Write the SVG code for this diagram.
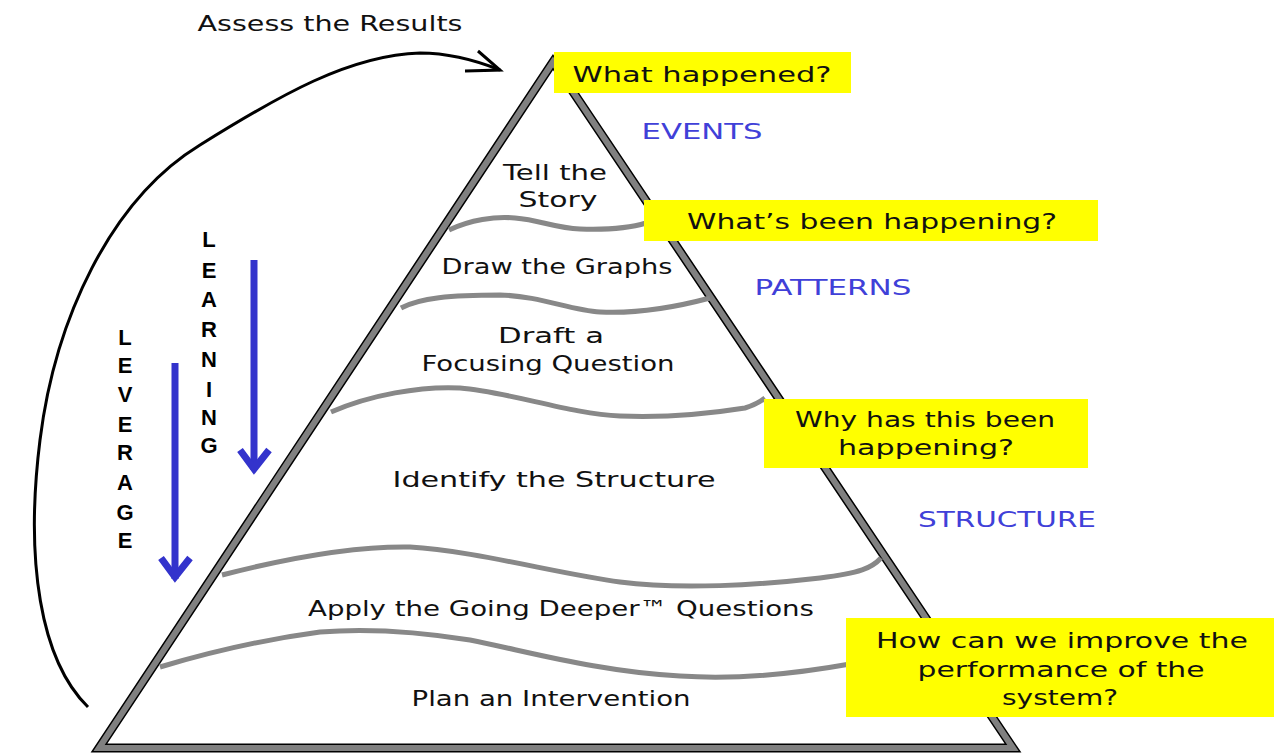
<svg xmlns="http://www.w3.org/2000/svg" width="1274" height="753" viewBox="0 0 1274 753">
<style>
.t{font-family:"DejaVu Sans","Liberation Sans",sans-serif;font-size:22px;fill:#111;text-anchor:middle}
.b{font-family:"DejaVu Sans","Liberation Sans",sans-serif;font-size:22px;fill:#4040D8;text-anchor:middle}
.v{font-family:"Liberation Sans","DejaVu Sans",sans-serif;font-size:22px;font-weight:bold;fill:#000;text-anchor:middle}
.wave{fill:none;stroke:#888;stroke-width:5}
.box{fill:#ffff00}
.blue{fill:none;stroke:#3333CC;stroke-width:7}
</style>
<rect width="1274" height="753" fill="#fff"/>
<g id="pyramid">
<polygon points="553,62 99,748 1013,748" fill="#fff" stroke="#000" stroke-width="9" stroke-linejoin="miter"/>
<polygon points="553,62 99,748 1013,748" fill="none" stroke="#808080" stroke-width="6" stroke-linejoin="miter"/>
</g>
<g id="layers">
<path class="wave" d="M449,230 C470,220 495,216 515,218 C540,220 555,228 580,229 C610,230 630,228 646,223"/>
<path class="wave" d="M401,308 C420,298 450,295 500,295 C540,296 570,310 600,312 C640,314 680,306 710,298"/>
<path class="wave" d="M331,412 C370,395 420,386 460,388 C510,392 570,414 620,416 C670,418 720,412 745,408 C755,405 760,402 765,398"/>
<path class="wave" d="M222,575 C280,560 350,546 410,547 C470,550 560,574 620,582 C680,590 760,585 820,578 C860,573 872,568 881,558"/>
<path class="wave" d="M160,667 C210,652 260,640 320,632 C370,628 420,632 470,640 C530,652 600,672 680,676 C740,680 800,673 850,664"/>
</g>
<g id="layer-labels">
<text class="t" x="555" y="180" textLength="104" lengthAdjust="spacingAndGlyphs">Tell the</text>
<text class="t" x="558" y="207" textLength="79" lengthAdjust="spacingAndGlyphs">Story</text>
<text class="t" x="557" y="274" textLength="231" lengthAdjust="spacingAndGlyphs">Draw the Graphs</text>
<text class="t" x="551" y="343" textLength="106" lengthAdjust="spacingAndGlyphs">Draft a</text>
<text class="t" x="548" y="371" textLength="253" lengthAdjust="spacingAndGlyphs">Focusing Question</text>
<text class="t" x="554" y="487" textLength="323" lengthAdjust="spacingAndGlyphs">Identify the Structure</text>
<text class="t" x="561" y="616" textLength="506" lengthAdjust="spacingAndGlyphs">Apply the Going Deeper™ Questions</text>
<text class="t" x="551" y="706" textLength="279" lengthAdjust="spacingAndGlyphs">Plan an Intervention</text>
</g>
<g id="q-what-happened">
<rect class="box" x="554" y="52" width="297" height="41"/>
<text class="t" x="702" y="82" textLength="259" lengthAdjust="spacingAndGlyphs">What happened?</text>
</g>
<g id="q-whats-been">
<rect class="box" x="644" y="200" width="454" height="41"/>
<text class="t" x="872" y="229" textLength="370" lengthAdjust="spacingAndGlyphs">What’s been happening?</text>
</g>
<g id="q-why">
<rect class="box" x="764" y="399" width="324" height="69"/>
<text class="t" x="925" y="427" textLength="260" lengthAdjust="spacingAndGlyphs">Why has this been</text>
<text class="t" x="926" y="455" textLength="176" lengthAdjust="spacingAndGlyphs">happening?</text>
</g>
<g id="q-how">
<rect class="box" x="846" y="618" width="428" height="99"/>
<text class="t" x="1062" y="648" textLength="372" lengthAdjust="spacingAndGlyphs">How can we improve the</text>
<text class="t" x="1061" y="677" textLength="287" lengthAdjust="spacingAndGlyphs">performance of the</text>
<text class="t" x="1060" y="705" textLength="116" lengthAdjust="spacingAndGlyphs">system?</text>
</g>
<g id="levels">
<text class="b" x="702" y="139" textLength="121" lengthAdjust="spacingAndGlyphs">EVENTS</text>
<text class="b" x="833" y="295" textLength="157" lengthAdjust="spacingAndGlyphs">PATTERNS</text>
<text class="b" x="1007" y="527" textLength="178" lengthAdjust="spacingAndGlyphs">STRUCTURE</text>
</g>
<g id="learning">
<text class="v" x="209" y="247">L</text>
<text class="v" x="209" y="278">E</text>
<text class="v" x="209" y="307">A</text>
<text class="v" x="209" y="337">R</text>
<text class="v" x="209" y="367">N</text>
<text class="v" x="209" y="397">I</text>
<text class="v" x="209" y="425">N</text>
<text class="v" x="209" y="453">G</text>
</g>
<g id="leverage">
<text class="v" x="125" y="345">L</text>
<text class="v" x="125" y="373">E</text>
<text class="v" x="125" y="402">V</text>
<text class="v" x="125" y="432">E</text>
<text class="v" x="125" y="460">R</text>
<text class="v" x="125" y="490">A</text>
<text class="v" x="125" y="520">G</text>
<text class="v" x="125" y="548">E</text>
</g>
<g id="connectors">
<line class="blue" x1="254" y1="260" x2="254" y2="470"/>
<polyline class="blue" points="240,450 254,469 269,450"/>
<line class="blue" x1="175" y1="363" x2="175" y2="579"/>
<polyline class="blue" points="161,558 175,577 190,558"/>
<path d="M88,707 C40,660 25,560 40,440 C55,320 110,200 200,145 C280,95 350,55 420,53 C450,53 480,62 500,70" fill="none" stroke="#000" stroke-width="3"/>
<polyline points="478,51 500,70 465,71" fill="none" stroke="#000" stroke-width="3"/>
</g>
<g id="assess-label">
<text class="t" x="330" y="31" textLength="265" lengthAdjust="spacingAndGlyphs">Assess the Results</text>
</g>
</svg>
